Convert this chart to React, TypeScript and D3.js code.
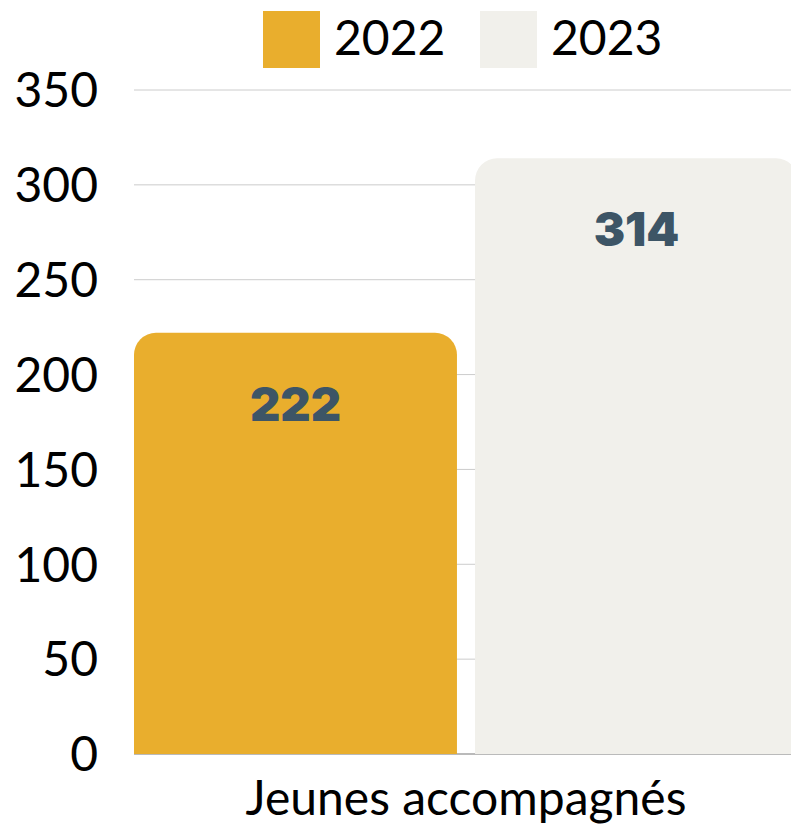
import React from "react";
import * as d3 from "d3";

const categories = ["Jeunes accompagnés"];
const seriesNames = ["2022", "2023"];
const values2022 = [222];
const values2023 = [314];
const yTicks = [0, 50, 100, 150, 200, 250, 300, 350];
const colors = ["#E9AE2D", "#F1F0EB"];

const W = 791;
const H = 827;
const M = { left: 134, right: -7, top: 90, bottom: 73 };

function roundedTopRect(x: number, y: number, w: number, h: number, r: number) {
  const rr = Math.min(r, w / 2, h);
  const p = d3.path();
  p.moveTo(x, y + h);
  p.lineTo(x, y + rr);
  p.arcTo(x, y, x + rr, y, rr);
  p.lineTo(x + w - rr, y);
  p.arcTo(x + w, y, x + w, y + rr, rr);
  p.lineTo(x + w, y + h);
  p.closePath();
  return p.toString();
}

export default function App() {
  const x0 = d3
    .scaleBand<string>()
    .domain(categories)
    .range([M.left, W - M.right])
    .paddingInner(0)
    .paddingOuter(0);
  const x1 = d3
    .scaleBand<string>()
    .domain(seriesNames)
    .range([0, x0.bandwidth()])
    .paddingInner(0.053)
    .paddingOuter(0);
  const y = d3.scaleLinear().domain([0, 350]).range([H - M.bottom, M.top]);
  const series = [values2022, values2023];
  const labelFont = "Lato, 'Noto Sans', sans-serif";

  return (
    <svg width={W} height={H} style={{ position: "absolute", left: 0, top: 0 }}>
      <rect x={0} y={0} width={W} height={H} fill="#ffffff" />
      {yTicks.map((t) => (
        <g key={t}>
          {t > 0 && (
            <line x1={M.left} x2={W} y1={y(t)} y2={y(t)} stroke="#cccccc" strokeWidth={1} />
          )}
          <text
            x={98}
            y={y(t)}
            dy="0.36em"
            textAnchor="end"
            fontFamily={labelFont}
            fontSize={48}
            fill="#000"
          >
            {t}
          </text>
        </g>
      ))}
      <line x1={M.left} x2={W} y1={y(0)} y2={y(0)} stroke="#777777" strokeWidth={1.2} />
      {categories.map((c, ci) => (
        <g key={c}>
          {seriesNames.map((s, si) => {
            const v = series[si][ci];
            const bx = (x0(c) as number) + (x1(s) as number);
            const bw = x1.bandwidth();
            return (
              <g key={s}>
                <path d={roundedTopRect(bx, y(v), bw, y(0) - y(v), 22)} fill={colors[si]} />
                <text
                  x={bx + bw / 2}
                  y={y(v) + 88}
                  textAnchor="middle"
                  fontFamily="Inter, 'DejaVu Sans', sans-serif"
                  fontWeight={900}
                  fontSize={47}
                  fill="#3D5566"
                >
                  {v}
                </text>
              </g>
            );
          })}
          <text
            x={(x0(c) as number) + x0.bandwidth() / 2}
            y={815}
            textAnchor="middle"
            fontFamily={labelFont}
            fontSize={48}
            fill="#000"
          >
            {c}
          </text>
        </g>
      ))}
      {seriesNames.map((s, i) => {
        const lx = [263, 480][i];
        return (
          <g key={s}>
            <rect x={lx} y={11} width={57} height={57} fill={colors[i]} />
            <text x={lx + 71} y={55} fontFamily={labelFont} fontSize={48} fill="#000">
              {s}
            </text>
          </g>
        );
      })}
    </svg>
  );
}
